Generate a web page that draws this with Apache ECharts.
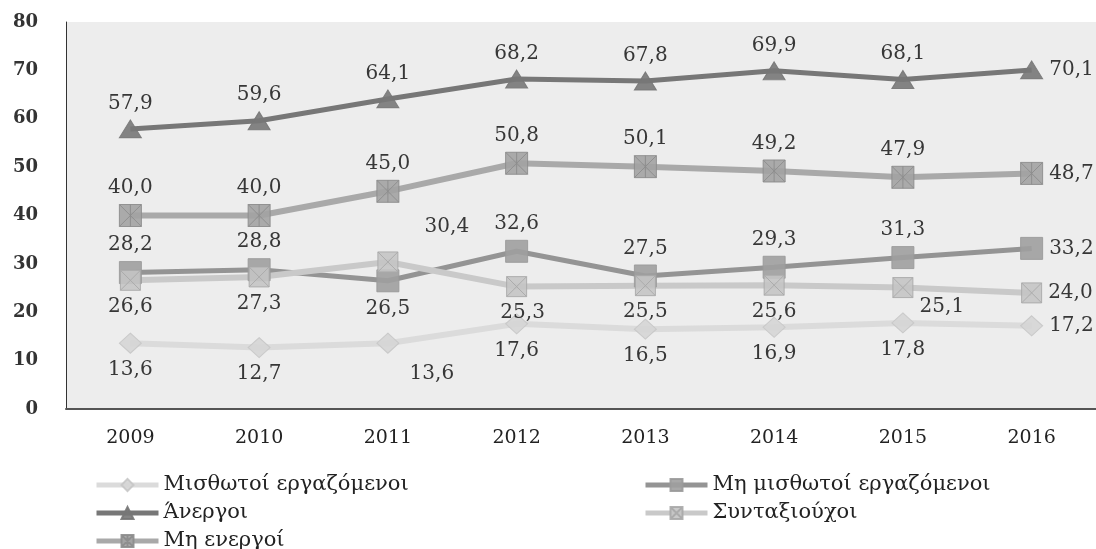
<!DOCTYPE html>
<html>
<head>
<meta charset="utf-8">
<script src="https://cdn.jsdelivr.net/npm/echarts@6/dist/echarts.min.js"></script>
<style>
  html, body { margin: 0; padding: 0; background: #fff; }
  #chart { width: 1096px; height: 549px; }
</style>
</head>
<body>
<div id="chart"></div>
<script>
// δεδομένα
const years = ['2009', '2010', '2011', '2012', '2013', '2014', '2015', '2016'];
const misthotoi = [13.6, 12.7, 13.6, 17.6, 16.5, 16.9, 17.8, 17.2];
const mhMisthotoi = [28.2, 28.8, 26.5, 32.6, 27.5, 29.3, 31.3, 33.2];
const anergoi = [57.9, 59.6, 64.1, 68.2, 67.8, 69.9, 68.1, 70.1];
const syntaxiouxoi = [26.6, 27.3, 30.4, 25.3, 25.5, 25.6, 25.1, 24.0];
const mhEnergoi = [40.0, 40.0, 45.0, 50.8, 50.1, 49.2, 47.9, 48.7];

const FONT = 'DejaVu Serif';

// θέσεις ετικετών (μόνο στυλ)
function place(values, positions, offsets) {
    return values.map(function (v, i) {
        let lbl = { position: positions[i] };
        if (offsets && offsets[i]) lbl.offset = offsets[i];
        return { value: v, label: lbl };
    });
}
const B = 'bottom', T = 'top', R = 'right';

let myChart = echarts.init(document.getElementById('chart'));

function lineSeries(name, values, positions, offsets, color, lineW, symbol, symbolSize, fill, border) {
    return {
        name: name,
        type: 'line',
        data: place(values, positions, offsets),
        symbol: symbol,
        symbolSize: symbolSize,
        lineStyle: { color: color, width: lineW },
        itemStyle: { color: fill, borderColor: border, borderWidth: 1, opacity: 0.9 },
        label: {
            show: true,
            distance: 6,
            color: '#222',
            fontFamily: FONT,
            fontSize: 20,
            formatter: function (p) { return p.value.toFixed(1).replace('.', ','); }
        },
        emphasis: { disabled: true }
    };
}

// ένα υπόμνημα ανά γραμμή
function legendRow(name, left, top) {
    return {
        left: left, top: top,
        padding: 0,
        itemWidth: 62, itemHeight: 15,
        lineStyle: { width: 5 },
        textStyle: { fontFamily: FONT, fontSize: 21, color: '#222', lineHeight: 22 },
        data: [name]
    };
}

const sqX = 'path://M0,0H10V10H0Z M0,0L10,10 M10,0L0,10';
const sqStar = 'path://M0,0H10V10H0Z M0,0L10,10 M10,0L0,10 M5,0V10';

let option = {
    animation: false,
    grid: {
        left: 66, right: 0, top: 22, bottom: 140,
        show: true, backgroundColor: '#ededed', borderWidth: 0
    },
    legend: [
        legendRow('Μισθωτοί εργαζόμενοι', 94, 474),
        legendRow('Άνεργοι', 94, 502),
        legendRow('Μη ενεργοί', 94, 530),
        legendRow('Μη μισθωτοί εργαζόμενοι', 643, 474),
        legendRow('Συνταξιούχοι', 643, 502)
    ],
    xAxis: {
        type: 'category',
        data: years,
        boundaryGap: true,
        axisLine: { lineStyle: { color: '#555', width: 2 } },
        axisTick: { show: false },
        axisLabel: { color: '#222', fontFamily: FONT, fontSize: 19, margin: 20 }
    },
    yAxis: {
        type: 'value',
        min: 0, max: 80, interval: 10,
        splitLine: { show: false },
        axisLine: { show: true, lineStyle: { color: '#333', width: 1 } },
        axisTick: { show: false },
        axisLabel: { color: '#333', fontFamily: FONT, fontSize: 18, fontWeight: 'bold', margin: 28 }
    },
    series: [
        lineSeries('Μισθωτοί εργαζόμενοι', misthotoi,
            [B, B, B, B, B, B, B, R], [null, null, [44, 4]],
            '#dbdbdb', 6, 'diamond', [22, 20], '#d5d5d5', '#c6c6c6'),
        lineSeries('Μη μισθωτοί εργαζόμενοι', mhMisthotoi,
            [T, T, B, T, T, T, T, R], null,
            '#949494', 5, 'rect', 22, '#9f9f9f', '#9a9a9a'),
        lineSeries('Άνεργοι', anergoi,
            [T, T, T, T, T, T, T, R], null,
            '#777777', 5, 'triangle', [22, 18], '#777777', '#777777'),
        lineSeries('Συνταξιούχοι', syntaxiouxoi,
            [B, B, T, B, B, B, B, R], [null, null, [59, -9], [6, 0], null, null, [39, -7]],
            '#c9c9c9', 6, sqX, 20, '#c4c4c4', '#a8a8a8'),
        lineSeries('Μη ενεργοί', mhEnergoi,
            [T, T, T, T, T, T, T, R], null,
            '#a9a9a9', 6, sqStar, 22, '#a2a2a2', '#8c8c8c')
    ]
};
myChart.setOption(option);
window.addEventListener('resize', function () {
    myChart.resize();
});
</script>
</body>
</html>
